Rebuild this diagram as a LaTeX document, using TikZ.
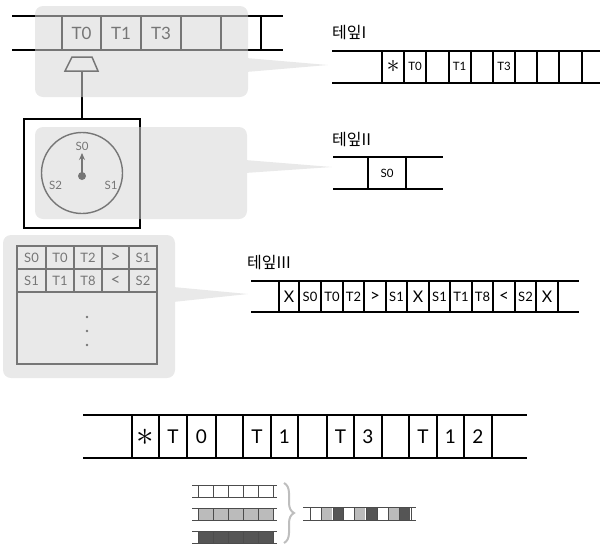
\documentclass[tikz,border=0pt]{standalone}
\usepackage{fontspec}
\setmainfont{Lato}
\newfontfamily\kofont{Noto Sans CJK KR}
\usetikzlibrary{decorations.pathreplacing,arrows.meta}

\definecolor{callgray}{RGB}{215,215,215}
\definecolor{celllight}{RGB}{187,187,187}
\definecolor{celldark}{RGB}{85,85,85}
\definecolor{bracegray}{RGB}{190,190,190}

\newcommand{\fs}[1]{\fontsize{#1}{#1}\selectfont}

\begin{document}
\begin{tikzpicture}[x=1pt,y=-1pt,
  tapeline/.style={line width=1.6pt},
  thinline/.style={line width=1pt, draw=black!70},
  callout/.style={fill=callgray},
  bigtxt/.style={inner sep=0pt, font=\fs{17}},
  smalltxt/.style={inner sep=0pt, font=\fs{11.5}},
  midtxt/.style={inner sep=0pt, font=\fs{13}},
  hugetxt/.style={inner sep=0pt, font=\fs{19}},
  star/.style={inner sep=0pt},
  label/.style={anchor=west, inner sep=0pt, font=\kofont\fs{16}},
]
\useasboundingbox (0,0) rectangle (600,544);

% ---------- head tape with reading head ----------
\draw[tapeline] (12,16) -- (283,16);
\draw[tapeline] (12,50) -- (283,50);
\foreach \x in {62,101,141,181,221,261}
  \draw[tapeline] (\x,16) -- (\x,50);
\node[bigtxt] (h0) at (81.5,33) {T0};
\node[bigtxt] (h1) at (121,33) {T1};
\node[bigtxt] (h3) at (161,33) {T3};

\draw[line width=1.5pt] (72,57) -- (92,57) -- (98,71) -- (65,71) -- cycle;
\coordinate (head) at (82,71);

% control unit with the state dial
\node[draw, line width=1.6pt, minimum width=116pt, minimum height=109pt, inner sep=0pt] (frame) at (82,173.5) {};
\draw[line width=1.6pt] (head) -- (frame.north);
\node[draw, circle, line width=1.4pt, minimum size=81pt, inner sep=0pt] (dial) at (82,173) {};
\fill (82,176) circle (4);
\coordinate (hub) at (82,176);
\coordinate (hand) at (82,153);
\draw[line width=1.4pt, -{Stealth[length=7pt,width=6pt]}] (hub) -- (hand);
\node[smalltxt] (s0) at (82,146) {S0};
\node[smalltxt] (s2) at (55.5,185.5) {S2};
\node[smalltxt] (s1) at (111,185.5) {S1};

% transition table
\draw[line width=1.4pt] (17,246) rectangle (157,364);
\draw[line width=1.4pt] (17,269) -- (157,269);
\draw[line width=1.4pt] (17,292) -- (157,292);
\foreach \x in {46,74,102,129}
  \draw[line width=1.4pt] (\x,246) -- (\x,292);
\foreach \t/\cx [count=\i] in {S0/31.5,T0/60,T2/88,{\fs{17}>}/115.5,S1/143}
  \node[midtxt] (ra\i) at (\cx,257.5) {\t};
\foreach \t/\cx [count=\i] in {S1/31.5,T1/60,T8/88,{\fs{17}<}/115.5,S2/143}
  \node[midtxt] (rb\i) at (\cx,280.5) {\t};
\foreach \y in {317,331,345}
  \fill (87,\y) circle (1.3);

% ---------- call-outs ----------
\begin{scope}[transparency group, opacity=0.55]
  \fill[callout, rounded corners=8] (35,6) rectangle (248,97);
  \fill[callout] (246,58) -- (328,65) -- (246,72) -- cycle;
\end{scope}
\begin{scope}[transparency group, opacity=0.55]
  \fill[callout, rounded corners=8] (35,127) rectangle (247,219);
  \fill[callout] (245,160) -- (332,167) -- (245,173) -- cycle;
\end{scope}
\begin{scope}[transparency group, opacity=0.55]
  \fill[callout, rounded corners=8] (3,235) rectangle (175,378);
  \fill[callout] (173,287) -- (248,294) -- (173,302) -- cycle;
\end{scope}

% ---------- tape I ----------
\node[label] (lab1) at (332,33) {테잎I};
\draw[tapeline] (332,51) -- (600,51);
\draw[tapeline] (332,83) -- (600,83);
\foreach \x in {382,404,426,449,471,493,515,537,559,582}
  \draw[tapeline] (\x,51) -- (\x,83);
\node[star] (a0) at (393,66) {\scalebox{2.6}{$\ast$}};
\node[smalltxt] (a1) at (415,66) {T0};
\node[smalltxt] (a2) at (459.5,66) {T1};
\node[smalltxt] (a3) at (504,66) {T3};

% ---------- tape II ----------
\node[label] (lab2) at (332,140) {테잎II};
\draw[tapeline] (333,157) -- (443,157);
\draw[tapeline] (333,189) -- (443,189);
\foreach \x in {368,406}
  \draw[tapeline] (\x,157) -- (\x,189);
\node[smalltxt] (b0) at (387,173) {S0};

% ---------- tape III ----------
\node[label] (lab3) at (247,263) {테잎III};
\draw[tapeline] (251,281) -- (579,281);
\draw[tapeline] (251,312) -- (579,312);
\foreach \x in {279,299,321,343,364,386,407,429,450,472,493,515,536,558}
  \draw[tapeline] (\x,281) -- (\x,312);
\foreach \t/\cx [count=\i] in {{\fs{16}X}/289,S0/310,T0/332,T2/353.5,{\fs{17}>}/375,S1/396.5,{\fs{16}X}/418,S1/439.5,T1/461,T8/482.5,{\fs{17}<}/504,S2/525.5,{\fs{16}X}/547}
  \node[midtxt] (c\i) at (\cx,296.5) {\t};

% ---------- single-symbol tape ----------
\draw[tapeline] (83,415) -- (527,415);
\draw[tapeline] (83,458) -- (527,458);
\foreach \x in {132,159,187,216,243,271,298,327,354,382,409,437,464,492}
  \draw[tapeline] (\x,415) -- (\x,458);
\node[star] (d0) at (145.5,437) {\scalebox{3.5}{$\ast$}};
\foreach \t/\cx [count=\i] in {T/173,0/201.5,T/257,1/284.5,T/340.5,3/368,T/423,1/450.5,2/478}
  \node[hugetxt] (d\i) at (\cx,437) {\t};

% ---------- interleaving several tracks into one ----------
\foreach \r/\fillc in {0/white,1/celllight,2/celldark} {
  \pgfmathsetmacro{\yt}{485+23*\r}
  \pgfmathsetmacro{\yb}{497.5+23*\r}
  \foreach \x in {198,213,228,243,258}
    \fill[\fillc] (\x,\yt) rectangle (\x+15,\yb);
  \draw[thinline] (192,\yt) -- (277,\yt);
  \draw[thinline] (192,\yb) -- (277,\yb);
  \foreach \x in {198,213,228,243,258,273}
    \draw[thinline] (\x,\yt) -- (\x,\yb);
}
\coordinate (bt) at (284,483);
\coordinate (bb) at (284,543);
\draw[bracegray, line width=2pt, decorate, decoration={brace, amplitude=10pt}] (bt) -- (bb);

\foreach \x/\fillc in {310/white,321/celllight,333/celldark,343/white,354/celllight,366/celldark,377/white,388/celllight,399/celldark}
  \fill[\fillc] (\x,507) rectangle ++(11.3,13);
\draw[thinline] (303,507) -- (416,507);
\draw[thinline] (303,520) -- (416,520);
\foreach \x in {310,321,333,343,354,366,377,388,399,411}
  \draw[thinline] (\x,507) -- (\x,520);
\end{tikzpicture}
\end{document}
